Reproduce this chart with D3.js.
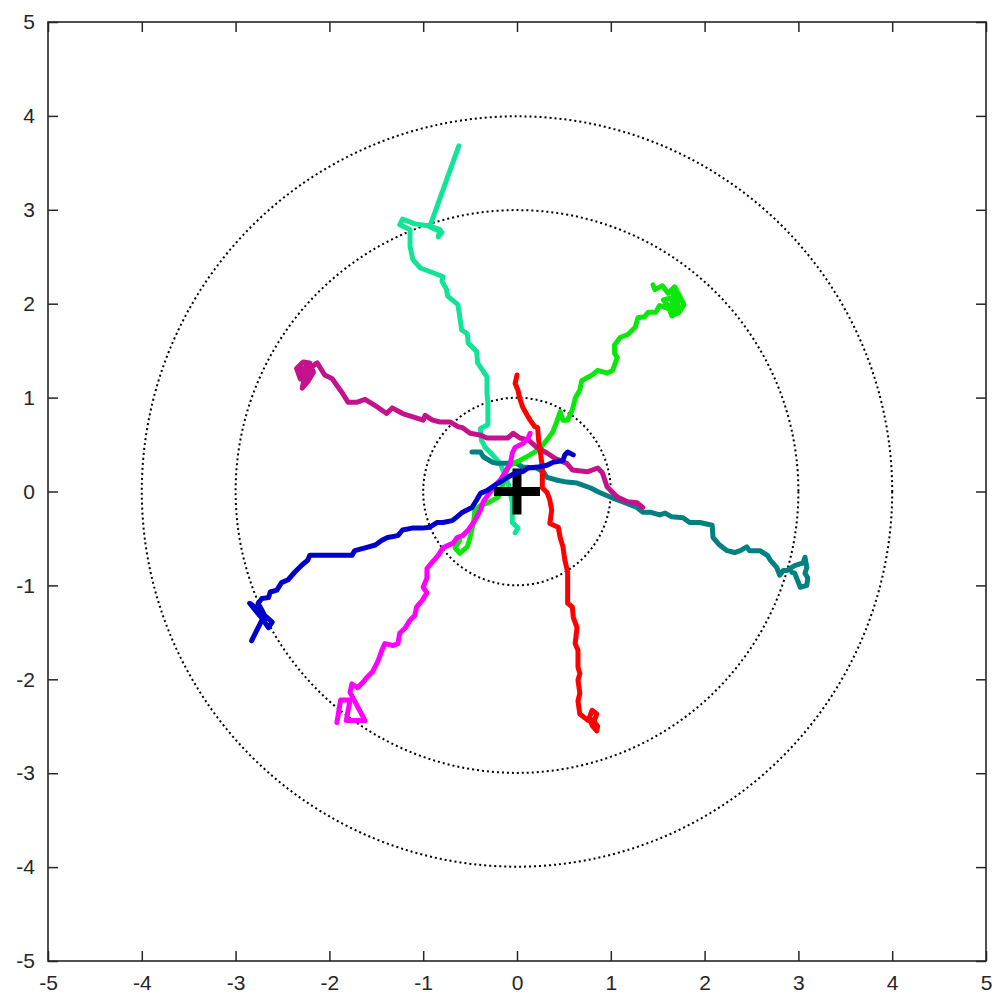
<!DOCTYPE html>
<html>
<head>
<meta charset="utf-8">
<script src="https://cdn.jsdelivr.net/npm/d3@7"></script>
<style>
  html, body { margin: 0; padding: 0; background: #fff; }
  svg { display: block; }
</style>
</head>
<body>
<svg id="chart" width="998" height="1002"></svg>
<script>
// Axis ticks
const xTicks = [-5, -4, -3, -2, -1, 0, 1, 2, 3, 4, 5];
const yTicks = [-5, -4, -3, -2, -1, 0, 1, 2, 3, 4, 5];

// Reference rings around the origin
const ringRadii = [1, 3, 4];

// Trajectories as [x, y] pairs
const mintX = [-0.02,0.01,-0.05,-0.05,-0.09,-0.15,-0.18,-0.26,-0.34,-0.38,-0.39,-0.31,-0.31,-0.32,-0.32,-0.42,-0.43,-0.52,-0.53,-0.59,-0.61,-0.63,-0.74,-0.75,-0.80,-0.79,-1.03,-1.11,-1.14,-1.14,-1.25,-1.22,-1.09,-0.95,-0.82,-0.84,-0.80,-0.87,-0.93,-0.62];
const mintY = [-0.44,-0.39,-0.33,-0.12,0.07,0.23,0.30,0.39,0.47,0.55,0.67,0.71,0.94,1.05,1.22,1.37,1.49,1.58,1.68,1.72,1.86,1.99,2.08,2.15,2.24,2.29,2.38,2.47,2.61,2.79,2.84,2.90,2.85,2.83,2.79,2.71,2.76,2.79,2.82,3.68];

const plumX = [-2.31,-2.35,-2.28,-2.21,-2.17,-2.23,-2.29,-2.26,-2.32,-2.25,-2.20,-2.27,-2.24,-2.21,-2.13,-2.05,-1.97,-1.87,-1.80,-1.71,-1.62,-1.49,-1.39,-1.33,-1.22,-1.00,-0.98,-0.90,-0.82,-0.71,-0.63,-0.58,-0.50,-0.39,-0.32,-0.10,-0.04,0.03,0.12,0.21,0.32,0.41,0.53,0.59,0.75,0.86,0.91,0.96,1.07,1.18,1.28,1.34];
const plumY = [1.20,1.31,1.38,1.37,1.27,1.17,1.10,1.24,1.27,1.33,1.22,1.15,1.28,1.31,1.37,1.24,1.20,1.06,0.95,0.95,0.98,0.90,0.83,0.89,0.83,0.76,0.81,0.76,0.74,0.74,0.69,0.68,0.62,0.60,0.57,0.57,0.62,0.57,0.55,0.47,0.41,0.35,0.30,0.23,0.21,0.25,0.20,0.05,-0.06,-0.11,-0.12,-0.17];

const redX = [0.00,-0.02,0.01,0.03,0.06,0.11,0.14,0.19,0.22,0.23,0.25,0.27,0.27,0.27,0.32,0.35,0.37,0.35,0.44,0.46,0.49,0.51,0.54,0.54,0.59,0.60,0.64,0.62,0.65,0.65,0.67,0.65,0.67,0.65,0.67,0.76,0.80,0.85,0.82,0.86,0.85,0.80,0.78,0.83];
const redY = [1.24,1.15,1.08,0.99,0.90,0.81,0.76,0.69,0.68,0.55,0.41,0.26,0.12,0.04,-0.01,-0.09,-0.20,-0.34,-0.38,-0.49,-0.59,-0.73,-0.86,-1.19,-1.23,-1.34,-1.45,-1.62,-1.69,-1.87,-1.94,-2.01,-2.15,-2.23,-2.37,-2.44,-2.33,-2.37,-2.45,-2.50,-2.55,-2.49,-2.42,-2.46];

const greenX = [1.45,1.47,1.55,1.61,1.68,1.74,1.78,1.73,1.65,1.61,1.56,1.63,1.70,1.66,1.72,1.67,1.74,1.66,1.64,1.52,1.48,1.40,1.36,1.29,1.26,1.18,1.10,1.04,1.04,1.07,1.02,0.96,0.86,0.80,0.69,0.67,0.62,0.59,0.54,0.49,0.46,0.43,0.38,0.32,0.25,0.14,0.03,-0.04,-0.10,-0.13,-0.16,-0.20,-0.29,-0.39,-0.45,-0.46,-0.50,-0.53,-0.61,-0.66,-0.61];
const greenY = [2.20,2.15,2.19,2.11,2.18,2.07,1.99,1.91,1.87,1.98,2.04,2.06,1.99,2.12,2.02,1.92,1.96,2.03,1.94,1.98,1.91,1.91,1.86,1.85,1.75,1.67,1.64,1.56,1.47,1.43,1.29,1.26,1.29,1.24,1.18,1.08,0.99,0.87,0.76,0.76,0.85,0.76,0.63,0.55,0.46,0.39,0.33,0.30,0.25,0.15,0.05,-0.06,-0.11,-0.15,-0.20,-0.31,-0.49,-0.59,-0.66,-0.60,-0.52];

const tealX = [-0.48,-0.39,-0.36,-0.26,-0.21,0.00,0.06,0.21,0.28,0.32,0.43,0.53,0.64,0.78,0.88,1.02,1.13,1.28,1.34,1.42,1.52,1.58,1.65,1.77,1.84,1.95,2.08,2.09,2.16,2.24,2.32,2.38,2.45,2.48,2.59,2.67,2.70,2.77,2.80,2.84,2.88,2.96,3.05,3.07,3.09,3.07,3.10,3.09,3.02,2.96,2.93];
const tealY = [0.42,0.42,0.37,0.31,0.30,0.30,0.26,0.25,0.21,0.15,0.12,0.10,0.09,0.04,-0.01,-0.07,-0.11,-0.17,-0.22,-0.22,-0.25,-0.23,-0.27,-0.28,-0.33,-0.33,-0.36,-0.49,-0.57,-0.63,-0.65,-0.63,-0.59,-0.63,-0.63,-0.68,-0.73,-0.81,-0.89,-0.84,-0.84,-0.79,-0.76,-0.70,-0.81,-0.87,-0.92,-1.00,-1.02,-0.87,-0.86];

const blueX = [0.60,0.54,0.51,0.49,0.38,0.32,0.22,0.12,0.06,0.00,-0.10,-0.18,-0.23,-0.32,-0.39,-0.43,-0.48,-0.58,-0.64,-0.69,-0.79,-0.85,-0.93,-1.01,-1.12,-1.22,-1.27,-1.38,-1.44,-1.51,-1.62,-1.73,-1.76,-2.21,-2.23,-2.29,-2.37,-2.44,-2.51,-2.56,-2.63,-2.65,-2.72,-2.76,-2.69,-2.61,-2.65,-2.72,-2.85,-2.74,-2.71,-2.83];
const blueY = [0.39,0.42,0.39,0.33,0.31,0.28,0.26,0.25,0.21,0.21,0.15,0.10,0.07,0.01,-0.02,-0.09,-0.17,-0.22,-0.27,-0.31,-0.33,-0.33,-0.38,-0.39,-0.39,-0.41,-0.47,-0.49,-0.52,-0.57,-0.60,-0.63,-0.68,-0.68,-0.73,-0.78,-0.86,-0.94,-0.97,-1.05,-1.07,-1.13,-1.14,-1.19,-1.32,-1.39,-1.45,-1.35,-1.19,-1.27,-1.35,-1.59];

const pinkX = [0.14,0.12,0.06,-0.02,-0.05,-0.07,-0.13,-0.18,-0.23,-0.29,-0.36,-0.39,-0.45,-0.52,-0.58,-0.64,-0.68,-0.79,-0.84,-0.91,-0.96,-0.96,-1.00,-0.96,-1.01,-1.07,-1.09,-1.14,-1.19,-1.25,-1.27,-1.32,-1.41,-1.44,-1.48,-1.54,-1.60,-1.64,-1.70,-1.76,-1.78,-1.62,-1.82,-1.78,-1.88,-1.92];
const pinkY = [0.62,0.57,0.51,0.47,0.41,0.30,0.20,0.12,0.07,-0.01,-0.11,-0.20,-0.31,-0.41,-0.47,-0.49,-0.55,-0.60,-0.68,-0.76,-0.82,-0.92,-1.02,-1.08,-1.16,-1.23,-1.32,-1.37,-1.45,-1.51,-1.62,-1.64,-1.62,-1.69,-1.80,-1.92,-1.98,-2.03,-2.09,-2.05,-2.14,-2.44,-2.44,-2.22,-2.22,-2.46];

// Drawing order (later ones sit on top)
const lowerTrajectories = [
  { xs: mintX,  ys: mintY,  color: "#12e497" },
  { xs: tealX,  ys: tealY,  color: "#008080" },
  { xs: greenX, ys: greenY, color: "#0be60b" },
  { xs: plumX,  ys: plumY,  color: "#c4118c" },
  { xs: pinkX,  ys: pinkY,  color: "#ff00ff" }
];
const upperTrajectories = [
  { xs: redX,   ys: redY,   color: "#ff0000" },
  { xs: blueX,  ys: blueY,  color: "#0000cc" }
];

const svg = d3.select("#chart");
const plotLeft = 48, plotTop = 22, plotRight = 986, plotBottom = 961;
const axisColor = "#262626";

const x = d3.scaleLinear().domain([-5, 5]).range([plotLeft, plotRight]);
const y = d3.scaleLinear().domain([-5, 5]).range([plotBottom, plotTop]);

// Dotted rings
svg.append("g").selectAll("circle")
  .data(ringRadii)
  .join("circle")
  .attr("cx", x(0))
  .attr("cy", y(0))
  .attr("r", d => x(d) - x(0))
  .attr("fill", "none")
  .attr("stroke", "#000")
  .attr("stroke-width", 2)
  .attr("stroke-dasharray", "2,3");

const line = d3.line()
  .x(d => x(d[0]))
  .y(d => y(d[1]));

function drawTrajectories(layer, list) {
  layer.selectAll("path")
    .data(list)
    .join("path")
    .attr("d", t => line(t.xs.map((v, i) => [v, t.ys[i]])))
    .attr("fill", "none")
    .attr("stroke", t => t.color)
    .attr("stroke-width", 5)
    .attr("stroke-linejoin", "round")
    .attr("stroke-linecap", "round");
}

drawTrajectories(svg.append("g"), lowerTrajectories);

// Origin marker
const arm = 23;
svg.append("path")
  .attr("d", `M${x(0) - arm},${y(0)}H${x(0) + arm}M${x(0)},${y(0) - arm}V${y(0) + arm}`)
  .attr("stroke", "#000")
  .attr("stroke-width", 9)
  .attr("fill", "none");

drawTrajectories(svg.append("g"), upperTrajectories);

// Frame with inward ticks on all four sides
const axes = svg.append("g");
const tickLen = 10;
const noLabel = () => "";
const label = d => d < 0 ? "-" + Math.abs(d) : String(d);

axes.append("g")
  .attr("transform", `translate(0,${plotBottom})`)
  .call(d3.axisBottom(x).tickValues(xTicks).tickSize(-tickLen).tickPadding(14).tickFormat(label));

axes.append("g")
  .attr("transform", `translate(${plotLeft},0)`)
  .call(d3.axisLeft(y).tickValues(yTicks).tickSize(-tickLen).tickPadding(13).tickFormat(label));

axes.append("g")
  .attr("transform", `translate(0,${plotTop})`)
  .call(d3.axisTop(x).tickValues(xTicks).tickSize(-tickLen).tickFormat(noLabel))
  .call(g => g.selectAll(".tick text").remove());

axes.append("g")
  .attr("transform", `translate(${plotRight},0)`)
  .call(d3.axisRight(y).tickValues(yTicks).tickSize(-tickLen).tickFormat(noLabel))
  .call(g => g.selectAll(".tick text").remove());

axes.selectAll(".domain").remove();

axes.selectAll(".tick line")
  .attr("stroke", axisColor)
  .attr("stroke-width", 1.5);

axes.selectAll(".tick text")
  .attr("fill", axisColor)
  .style("font-family", "'Liberation Sans', Arial, Helvetica, sans-serif")
  .style("font-size", "21px");

axes.append("rect")
  .attr("x", plotLeft)
  .attr("y", plotTop)
  .attr("width", plotRight - plotLeft)
  .attr("height", plotBottom - plotTop)
  .attr("fill", "none")
  .attr("stroke", axisColor)
  .attr("stroke-width", 1.6);
</script>
</body>
</html>
